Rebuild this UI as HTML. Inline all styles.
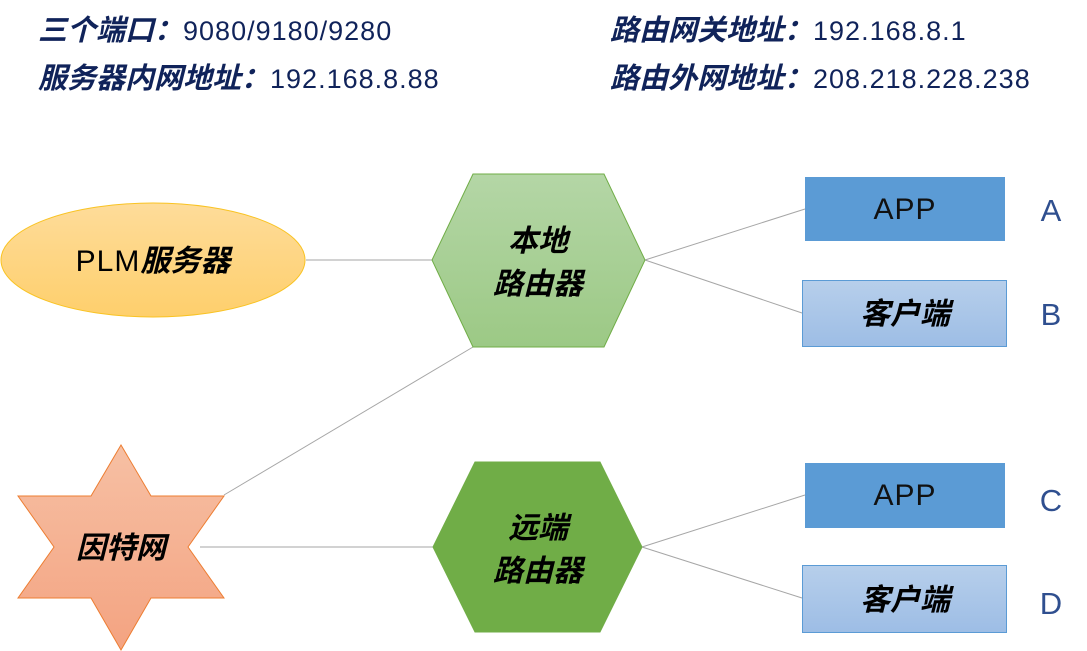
<!DOCTYPE html>
<html><head><meta charset="utf-8"><style>
body{margin:0;width:1087px;height:651px;background:#fff;overflow:hidden;font-family:"Liberation Sans","Noto Sans CJK SC",sans-serif;}
.h{position:absolute;font-size:27px;color:#10235a;white-space:nowrap;letter-spacing:1px;}
.h b{font-style:italic;font-size:29px;letter-spacing:0;}
</style></head><body>
<div class="h" style="left:38px;top:7px"><b>三个端口：</b>9080/9180/9280</div>
<div class="h" style="left:38px;top:55px"><b>服务器内网地址：</b>192.168.8.88</div>
<div class="h" style="left:610px;top:7px"><b>路由网关地址：</b>192.168.8.1</div>
<div class="h" style="left:610px;top:55px"><b>路由外网地址：</b>208.218.228.238</div>
<svg width="1087" height="651" style="position:absolute;left:0;top:0" font-family="Liberation Sans, Noto Sans CJK SC, sans-serif">
<defs>
<linearGradient id="ge" x1="0" y1="0" x2="0" y2="1"><stop offset="0" stop-color="#fedc9a"/><stop offset="1" stop-color="#fecf6c"/></linearGradient>
<linearGradient id="gh" x1="0" y1="0" x2="0" y2="1"><stop offset="0" stop-color="#b4d6a6"/><stop offset="1" stop-color="#9cc985"/></linearGradient>
<linearGradient id="gs" x1="0" y1="0" x2="0" y2="1"><stop offset="0" stop-color="#f6c0a4"/><stop offset="1" stop-color="#f4a381"/></linearGradient>
<linearGradient id="gb" x1="0" y1="0" x2="0" y2="1"><stop offset="0" stop-color="#b7cfeb"/><stop offset="1" stop-color="#9dbde5"/></linearGradient>
</defs>
<g stroke="#a6a6a6" stroke-width="1">
<line x1="306" y1="260" x2="432" y2="260"/>
<line x1="645" y1="260" x2="805" y2="209"/>
<line x1="645" y1="260" x2="802" y2="313"/>
<line x1="473" y1="347" x2="224" y2="495"/>
<line x1="200" y1="547" x2="433" y2="547"/>
<line x1="642" y1="547" x2="805" y2="495"/>
<line x1="642" y1="547" x2="802" y2="598"/>
</g>
<ellipse cx="153" cy="260" rx="152" ry="57" fill="url(#ge)" stroke="#f9c323"/>
<text x="153" y="271" font-size="30" text-anchor="middle" fill="#000"><tspan letter-spacing="1">PLM</tspan><tspan font-weight="bold" font-style="italic">服务器</tspan></text>
<polygon points="473,174 604,174 645,260 604,347 473,347 432,260" fill="url(#gh)" stroke="#70ad47"/>
<text x="538" y="251" font-size="30" font-weight="bold" font-style="italic" text-anchor="middle">本地</text>
<text x="538" y="294" font-size="30" font-weight="bold" font-style="italic" text-anchor="middle">路由器</text>
<polygon points="475,462 600,462 642,547 600,632 475,632 433,547" fill="#70ad47" stroke="#70ad47"/>
<text x="538" y="538" font-size="30" font-weight="bold" font-style="italic" text-anchor="middle">远端</text>
<text x="538" y="581" font-size="30" font-weight="bold" font-style="italic" text-anchor="middle">路由器</text>
<polygon points="121,445 151,496 224,496 188,547 224,598 151,598 121,650 91,598 18,598 54,547 18,496 91,496" fill="url(#gs)" stroke="#ed7d31"/>
<text x="121" y="558" font-size="30" font-weight="bold" font-style="italic" text-anchor="middle">因特网</text>
<rect x="805" y="177" width="200" height="64" fill="#5b9bd5"/>
<text x="905" y="219" font-size="30" text-anchor="middle" fill="#111" letter-spacing="1">APP</text>
<rect x="802.5" y="280.5" width="204" height="66" fill="url(#gb)" stroke="#5b9bd5"/>
<text x="905" y="324" font-size="30" font-weight="bold" font-style="italic" text-anchor="middle">客户端</text>
<rect x="805" y="463" width="200" height="65" fill="#5b9bd5"/>
<text x="905" y="505" font-size="30" text-anchor="middle" fill="#111" letter-spacing="1">APP</text>
<rect x="802.5" y="565.5" width="204" height="67" fill="url(#gb)" stroke="#5b9bd5"/>
<text x="905" y="610" font-size="30" font-weight="bold" font-style="italic" text-anchor="middle">客户端</text>
<g font-size="31" fill="#2f4f8f" text-anchor="middle">
<text x="1051" y="221">A</text><text x="1051" y="325">B</text>
<text x="1051" y="511">C</text><text x="1051" y="614">D</text>
</g>
</svg>
</body></html>
